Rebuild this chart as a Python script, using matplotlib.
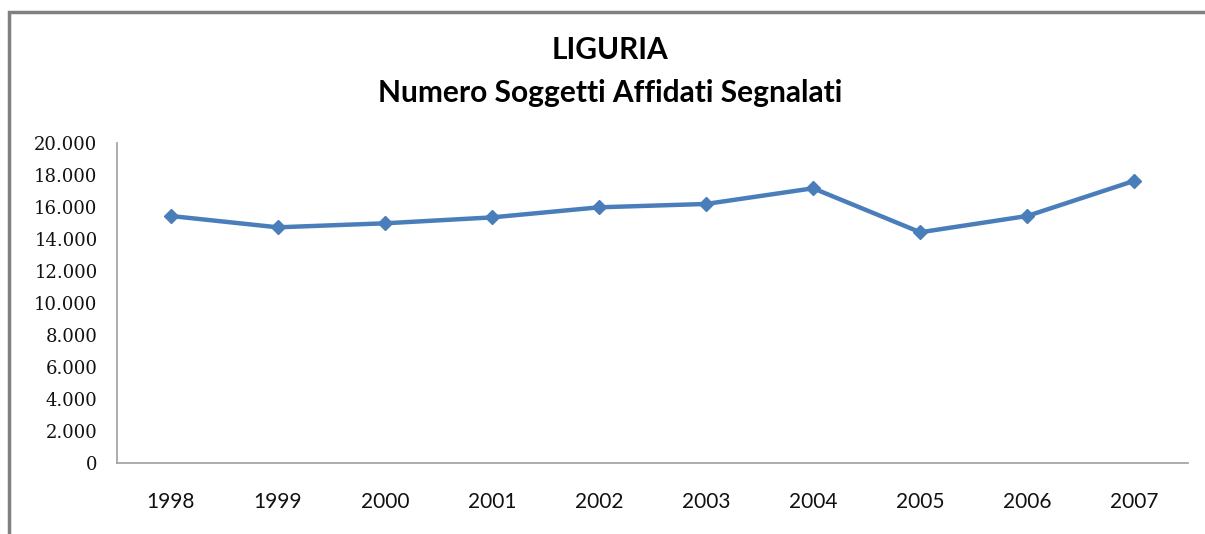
import matplotlib
matplotlib.use("Agg")
import matplotlib.pyplot as plt
from matplotlib.patches import Rectangle
from matplotlib.ticker import FuncFormatter

years = ['1998', '1999', '2000', '2001', '2002', '2003', '2004', '2005', '2006', '2007']
soggetti = [15440, 14730, 14980, 15350, 15980, 16190, 17170, 14420, 15440, 17640]

fig = plt.figure(figsize=(12.05, 5.34), dpi=100)
ax = fig.add_axes([117 / 1205, 1 - 463 / 534, (1188 - 117) / 1205, (463 - 143) / 534])

x = list(range(len(years)))
ax.plot(x, soggetti, color='#4A7EBB', linewidth=3.2, marker='D', markersize=7.5,
        solid_joinstyle='round')

ax.set_xlim(-0.5, len(years) - 0.5)
ax.set_ylim(0, 20000)
ax.set_yticks(range(0, 20001, 2000))
ax.yaxis.set_major_formatter(FuncFormatter(lambda v, p: f"{int(v):,}".replace(",", ".")))
ax.set_xticks(x)
ax.set_xticklabels(years, fontfamily='Lato', fontsize=15)
for lbl in ax.get_yticklabels():
    lbl.set_fontfamily('DejaVu Serif')
    lbl.set_fontsize(13)
ax.tick_params(axis='both', length=0, colors='#111111')
ax.tick_params(axis='x', pad=21)
ax.tick_params(axis='y', pad=14)

for s in ['top', 'right']:
    ax.spines[s].set_visible(False)
for s in ['left', 'bottom']:
    ax.spines[s].set_color('#a6a6a6')
    ax.spines[s].set_linewidth(1.3)

fig.text(0.506, 1 - 50 / 534, 'LIGURIA', ha='center', va='center',
         fontsize=21.5, fontweight='bold', fontfamily='Lato')
fig.text(0.506, 1 - 93 / 534, 'Numero Soggetti Affidati Segnalati', ha='center', va='center',
         fontsize=21.5, fontweight='bold', fontfamily='Lato')

# outer chart frame
fig.patches.append(Rectangle((9 / 1205, -0.1), 1.2, 1 - 12 / 534 + 0.1, transform=fig.transFigure,
                             fill=False, edgecolor='#808080', linewidth=2.5))

fig.savefig('out.png', dpi=100)
